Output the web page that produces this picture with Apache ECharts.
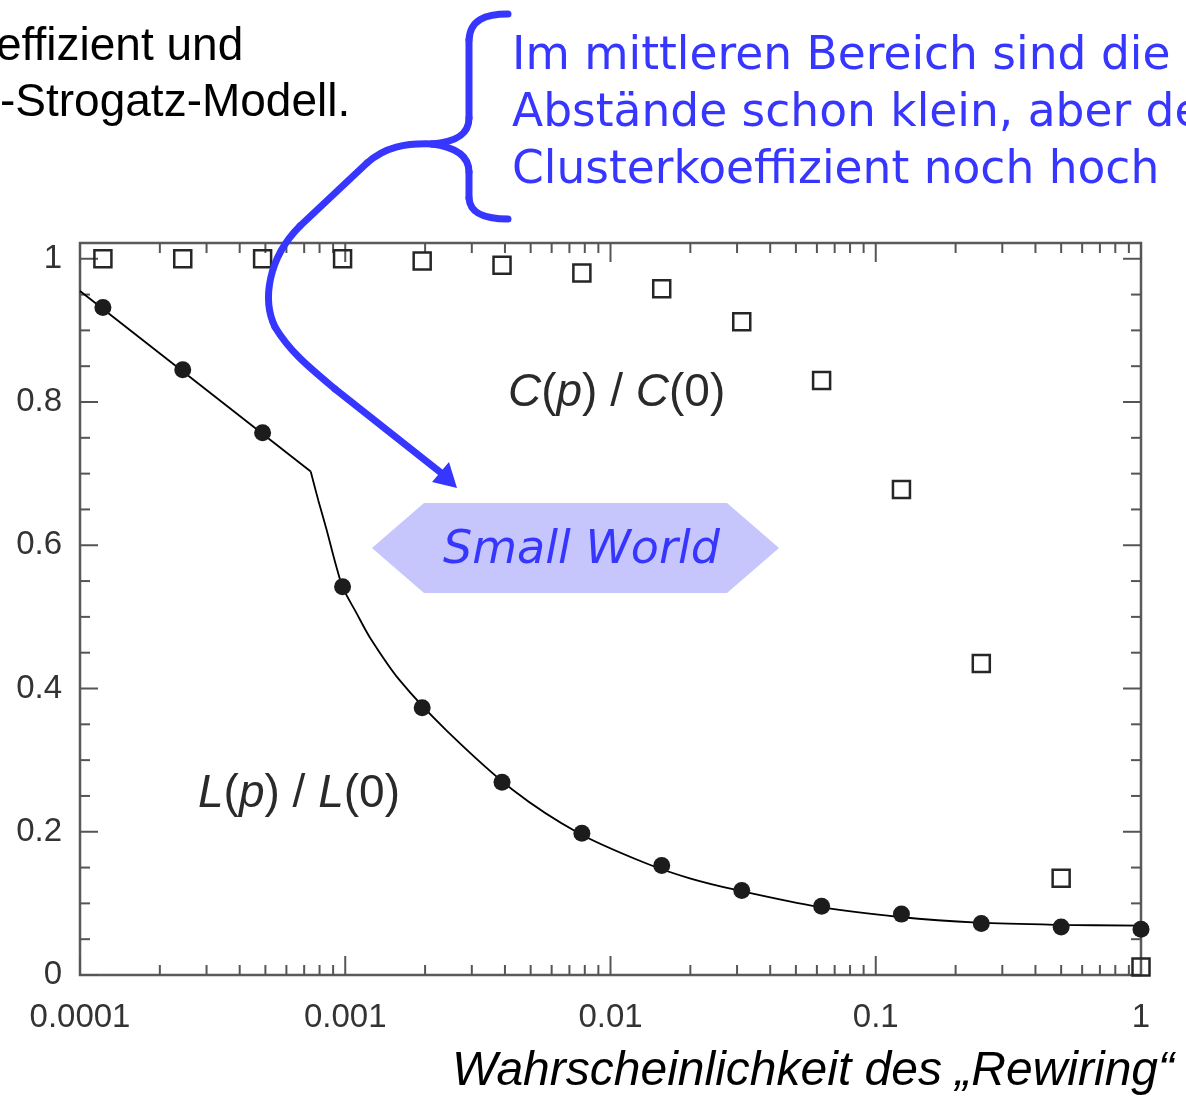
<!DOCTYPE html>
<html>
<head>
<meta charset="utf-8">
<script src="https://cdn.jsdelivr.net/npm/echarts@6/dist/echarts.min.js"></script>
<style>
html,body{margin:0;padding:0;background:#fff;}
#chart{width:1186px;height:1096px;}
</style>
</head>
<body>
<div id="chart"></div>
<script>
// ---- data ----
const pValues = [0.000122, 0.000244, 0.000488, 0.000977, 0.00195, 0.0039, 0.0078, 0.0156, 0.03125, 0.0625, 0.125, 0.25, 0.5, 1];
const cRatio  = [1.0, 1.0, 1.0, 1.0, 0.997, 0.991, 0.980, 0.958, 0.912, 0.830, 0.678, 0.435, 0.135, 0.011];
const lRatio  = [0.932, 0.845, 0.757, 0.542, 0.373, 0.269, 0.198, 0.153, 0.118, 0.096, 0.085, 0.072, 0.067, 0.064];
// fitted curve: straight part up to the kink, then the smooth part
const curveStraightP = [0.0001, 0.000741];
const curveStraightV = [0.955, 0.703];
const curveSmoothP = [0.000741, 0.000791, 0.00085, 0.000926, 0.000981, 0.0011, 0.00124, 0.0016, 0.0024, 0.0043, 0.0076, 0.0136, 0.0199, 0.0304, 0.0612, 0.123, 0.242, 0.484, 1];
const curveSmoothV = [0.703, 0.663, 0.622, 0.570, 0.540, 0.506, 0.471, 0.412, 0.342, 0.258, 0.198, 0.156, 0.135, 0.118, 0.095, 0.081, 0.073, 0.070, 0.069];
const xTickValues = [0.0001, 0.001, 0.01, 0.1, 1];
const xTickLabels = ['0.0001', '0.001', '0.01', '0.1', '1'];
const xMinorMultipliers = [2, 3, 4, 5, 6, 7, 8, 9];
const yTickValues = [0, 0.2, 0.4, 0.6, 0.8, 1];
const yTickLabels = ['0', '0.2', '0.4', '0.6', '0.8', '1'];
const yMinorValues = [0.05, 0.1, 0.15, 0.25, 0.3, 0.35, 0.45, 0.5, 0.55, 0.65, 0.7, 0.75, 0.85, 0.9, 0.95];

const BLUE = '#3636ff';
const AX = '#555';

// tick specs: [x, y, axisFlag(0=x,1=y), length]
const tickData = [];
xTickValues.forEach(v => tickData.push([v, 0.5, 0, 19]));
xTickValues.slice(0, -1).forEach(d => xMinorMultipliers.forEach(m => tickData.push([d * m, 0.5, 0, 10])));
yTickValues.forEach(v => tickData.push([0.01, v, 1, 18]));
yMinorValues.forEach(v => tickData.push([0.01, v, 1, 10]));

function bez(x1, y1, cpx1, cpy1, cpx2, cpy2, x2, y2) {
  return {type: 'bezierCurve', z: 60, shape: {x1, y1, cpx1, cpy1, cpx2, cpy2, x2, y2},
    style: {stroke: BLUE, lineWidth: 7, fill: null, lineCap: 'round'}};
}
function seg(x1, y1, x2, y2) {
  return {type: 'line', z: 60, shape: {x1, y1, x2, y2}, style: {stroke: BLUE, lineWidth: 7, lineCap: 'round'}};
}

const chart = echarts.init(document.getElementById('chart'), null, {renderer: 'canvas'});

const option = {
  animation: false,
  backgroundColor: '#fff',
  grid: {left: 80, right: 45, top: 243, bottom: 121, show: true, borderColor: '#5a5a5a', borderWidth: 2.5, backgroundColor: 'transparent'},
  xAxis: {
    type: 'log', logBase: 10, min: 0.0001, max: 1,
    axisLine: {show: false}, axisTick: {show: false}, splitLine: {show: false}, minorTick: {show: false},
    axisLabel: {
      fontSize: 33, color: '#333', fontFamily: '"Liberation Sans", Arial, sans-serif', margin: 26,
      formatter: function (v) {
        const i = xTickValues.findIndex(t => Math.abs(Math.log10(t) - Math.log10(v)) < 1e-6);
        return i >= 0 ? xTickLabels[i] : '';
      }
    }
  },
  yAxis: {
    type: 'value', min: 0, max: 1.022, interval: 0.2,
    axisLine: {show: false}, axisTick: {show: false}, splitLine: {show: false},
    axisLabel: {
      fontSize: 33, color: '#333', fontFamily: '"Liberation Sans", Arial, sans-serif', margin: 18, showMaxLabel: false,
      formatter: function (v) {
        const i = yTickValues.findIndex(t => Math.abs(t - v) < 1e-6);
        return i >= 0 ? yTickLabels[i] : '';
      }
    }
  },
  series: [
    {
      type: 'custom', data: tickData, clip: false, silent: true, z: 1,
      renderItem: function (params, api) {
        const cs = params.coordSys;
        const flag = api.value(2), len = api.value(3);
        if (flag === 0) {
          const px = api.coord([api.value(0), 0.5])[0];
          return {type: 'group', children: [
            {type: 'line', shape: {x1: px, y1: cs.y + cs.height, x2: px, y2: cs.y + cs.height - len}, style: {stroke: AX, lineWidth: 2}},
            {type: 'line', shape: {x1: px, y1: cs.y, x2: px, y2: cs.y + len}, style: {stroke: AX, lineWidth: 2}}
          ]};
        } else {
          const py = api.coord([0.01, api.value(1)])[1];
          return {type: 'group', children: [
            {type: 'line', shape: {x1: cs.x, y1: py, x2: cs.x + len, y2: py}, style: {stroke: AX, lineWidth: 2}},
            {type: 'line', shape: {x1: cs.x + cs.width, y1: py, x2: cs.x + cs.width - len, y2: py}, style: {stroke: AX, lineWidth: 2}}
          ]};
        }
      }
    },
    {
      type: 'line', data: curveStraightP.map((p, i) => [p, curveStraightV[i]]), showSymbol: false, symbol: 'none',
      lineStyle: {color: '#000', width: 1.8}, z: 2, clip: false
    },
    {
      type: 'line', data: curveSmoothP.map((p, i) => [p, curveSmoothV[i]]), showSymbol: false, symbol: 'none',
      smooth: 0.3,
      lineStyle: {color: '#000', width: 1.8}, z: 2, clip: false
    },
    {
      type: 'scatter', data: pValues.map((p, i) => [p, lRatio[i]]), symbol: 'circle', symbolSize: 17,
      itemStyle: {color: '#1c1c1c', opacity: 1}, z: 3, clip: false
    },
    {
      type: 'scatter', data: pValues.map((p, i) => [p, cRatio[i]]), symbol: 'rect', symbolSize: 17,
      itemStyle: {color: 'rgba(0,0,0,0)', borderColor: '#262626', borderWidth: 2.5, opacity: 1}, z: 3, clip: false
    }
  ],
  graphic: [
    // top-left heading (cut off at the left edge)
    {type: 'text', left: -4, top: 24, z: 50, style: {text: 'effizient und', font: '46px "Liberation Sans", Arial, sans-serif', fill: '#000'}},
    {type: 'text', left: 0, top: 80, z: 50, style: {text: '-Strogatz-Modell.', font: '46px "Liberation Sans", Arial, sans-serif', fill: '#000'}},
    // blue comment text
    {type: 'text', left: 512, top: 34, z: 50, style: {text: 'Im mittleren Bereich sind die', font: '45.5px "Comic Sans MS", "DejaVu Sans", sans-serif', fill: BLUE}},
    {type: 'text', left: 512, top: 91, z: 50, style: {text: 'Abstände schon klein, aber der', font: '45.5px "Comic Sans MS", "DejaVu Sans", sans-serif', fill: BLUE}},
    {type: 'text', left: 512, top: 148, z: 50, style: {text: 'Clusterkoeffizient noch hoch', font: '45.5px "Comic Sans MS", "DejaVu Sans", sans-serif', fill: BLUE}},
    // brace
    bez(508, 14, 485, 14, 470, 20, 469, 40),
    seg(469, 40, 469, 118),
    bez(469, 118, 469, 135, 455, 142, 432, 144),
    bez(432, 144, 455, 147, 469, 155, 469, 172),
    seg(469, 172, 469, 198),
    bez(469, 198, 470, 214, 485, 219, 508, 219),
    // curved arrow
    bez(433, 144, 405, 143, 385, 147, 367, 163),
    seg(367, 163, 300, 226),
    bez(300, 226, 268, 258, 262, 300, 275, 327),
    bez(275, 327, 290, 352, 310, 368, 335, 389),
    seg(335, 389, 440, 472),
    {type: 'polygon', z: 60, shape: {points: [[457, 488], [432, 482], [449, 462]]}, style: {fill: BLUE}},
    // small world box
    {type: 'polygon', z: 40, shape: {points: [[372, 548], [424, 503], [727, 503], [779, 548], [727, 593], [424, 593]]}, style: {fill: '#c6c6fd'}},
    {type: 'text', z: 41, left: 443, top: 528, style: {text: 'Small World', font: 'italic 46px "Comic Sans MS", "DejaVu Sans", sans-serif', fill: BLUE}},
    // curve labels
    {type: 'text', z: 45, left: 508, top: 370, style: {
      text: '{i|C}{n|(}{i|p}{n|) / }{i|C}{n|(0)}',
      rich: {i: {font: 'italic 46px "Liberation Sans", Arial, sans-serif', fill: '#2a2a2a'}, n: {font: '46px "Liberation Sans", Arial, sans-serif', fill: '#2a2a2a'}}}},
    {type: 'text', z: 45, left: 198, top: 771, style: {
      text: '{i|L}{n|(}{i|p}{n|) / }{i|L}{n|(0)}',
      rich: {i: {font: 'italic 46px "Liberation Sans", Arial, sans-serif', fill: '#2a2a2a'}, n: {font: '46px "Liberation Sans", Arial, sans-serif', fill: '#2a2a2a'}}}},
    // axis title
    {type: 'text', z: 45, right: 12, top: 1048, style: {text: 'Wahrscheinlichkeit des „Rewiring“', font: 'italic 48px "Liberation Sans", Arial, sans-serif', fill: '#000'}}
  ]
};
chart.setOption(option);
</script>
</body>
</html>
